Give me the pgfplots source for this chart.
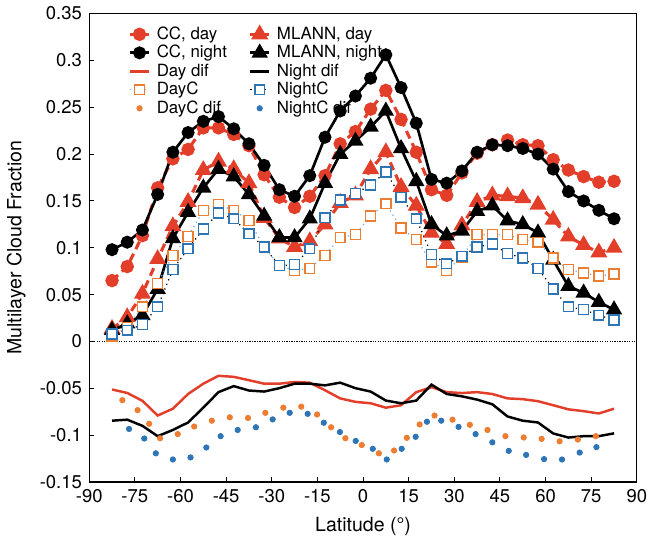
\documentclass[border=0pt]{standalone}
\usepackage{fontspec}
\setmainfont{TeX Gyre Heros}
\usepackage{pgfplots}
\pgfplotsset{compat=1.18}

\definecolor{cred}{RGB}{226,62,42}
\definecolor{corange}{RGB}{237,125,49}
\definecolor{cblue}{RGB}{46,117,182}
\definecolor{clblue}{RGB}{120,170,215}

\begin{document}
\begin{tikzpicture}
\begin{axis}[
    scale only axis,
    width=266.5pt,
    height=228pt,
    xmin=-90, xmax=90,
    ymin=-0.15, ymax=0.35,
    xtick={-90,-75,-60,-45,-30,-15,0,15,30,45,60,75,90},
    ytick={-0.15,-0.1,-0.05,0,0.05,0.1,0.15,0.2,0.25,0.3,0.35},
    tick align=inside,
    tick pos=left,
    major tick length=2.5pt,
    axis line style={line width=0.6pt},
    every tick/.style={black, line width=0.5pt},
    tick label style={font=\fontsize{9}{10}\selectfont},
    /pgf/number format/assume math mode=true,
    y tick label style={/pgf/number format/fixed, /pgf/number format/precision=2},
    xlabel={Latitude (°)},
    ylabel={Multilayer Cloud Fraction},
    label style={font=\fontsize{9.5}{11}\selectfont},
    legend columns=2,
    legend cell align=left,
    legend style={at={(0.06,0.985)}, anchor=north west, draw=none, fill=none,
        font=\fontsize{8.2}{8.6}\selectfont, row sep=0pt,
        nodes={inner sep=0.6pt, text height=6.2pt, text depth=1.6pt},
        /tikz/every odd column/.append style={column sep=2.5pt},
        /tikz/every even column/.append style={column sep=10pt}},
    legend image code/.code={\draw[mark repeat=2,mark phase=2]
        plot coordinates {(0cm,0cm) (0.16cm,0cm) (0.32cm,0cm)};},
]
% zero line
\addplot[black, line width=0.7pt, dash pattern=on 0.6pt off 0.6pt, forget plot]
    coordinates {(-90,0) (90,0)};

% CC, day
\addplot[cred, line width=1.5pt, dash pattern=on 4pt off 2.5pt,
    mark=*, mark size=2.5pt, mark options={solid, fill=cred, draw=cred}] coordinates {
(-82.5,0.065) (-77.5,0.080) (-72.5,0.113) (-67.5,0.164) (-62.5,0.195) (-57.5,0.205)
(-52.5,0.228) (-47.5,0.228) (-42.5,0.221) (-37.5,0.209) (-32.5,0.178) (-27.5,0.154)
(-22.5,0.143) (-17.5,0.155) (-12.5,0.177) (-7.5,0.211) (-2.5,0.224) (2.5,0.248)
(7.5,0.268) (12.5,0.237) (17.5,0.202) (22.5,0.162) (27.5,0.156) (32.5,0.180)
(37.5,0.201) (42.5,0.210) (47.5,0.215) (52.5,0.210) (57.5,0.209) (62.5,0.194)
(67.5,0.183) (72.5,0.176) (77.5,0.170) (82.5,0.171)
};
\addlegendentry{CC, day}

% MLANN, day
\addplot[cred, line width=1.5pt, dash pattern=on 4pt off 2.5pt,
    mark=triangle*, mark size=3.3pt, mark options={solid, fill=cred, draw=cred}] coordinates {
(-82.5,0.0135) (-77.5,0.026) (-72.5,0.051) (-67.5,0.088) (-62.5,0.123) (-57.5,0.149)
(-52.5,0.183) (-47.5,0.192) (-42.5,0.184) (-37.5,0.169) (-32.5,0.132) (-27.5,0.110)
(-22.5,0.101) (-17.5,0.107) (-12.5,0.125) (-7.5,0.148) (-2.5,0.156) (2.5,0.184)
(7.5,0.202) (12.5,0.165) (17.5,0.145) (22.5,0.116) (27.5,0.104) (32.5,0.124)
(37.5,0.149) (42.5,0.156) (47.5,0.155) (52.5,0.153) (57.5,0.146) (62.5,0.130)
(67.5,0.112) (72.5,0.103) (77.5,0.095) (82.5,0.100)
};
\addlegendentry{MLANN, day}

% CC, night
\addplot[black, line width=1.3pt, mark=*, mark size=2.5pt,
    mark options={solid, fill=black}] coordinates {
(-82.5,0.098) (-77.5,0.106) (-72.5,0.119) (-67.5,0.157) (-62.5,0.202) (-57.5,0.223)
(-52.5,0.235) (-47.5,0.240) (-42.5,0.227) (-37.5,0.211) (-32.5,0.188) (-27.5,0.162)
(-22.5,0.155) (-17.5,0.177) (-12.5,0.218) (-7.5,0.246) (-2.5,0.262) (2.5,0.281)
(7.5,0.306) (12.5,0.271) (17.5,0.233) (22.5,0.173) (27.5,0.169) (32.5,0.182)
(37.5,0.202) (42.5,0.210) (47.5,0.209) (52.5,0.206) (57.5,0.200) (62.5,0.184)
(67.5,0.160) (72.5,0.150) (77.5,0.140) (82.5,0.131)
};
\addlegendentry{CC, night}

% MLANN, night
\addplot[black, line width=1.3pt, mark=triangle*, mark size=3.3pt,
    mark options={solid, fill=black}] coordinates {
(-82.5,0.012) (-77.5,0.019) (-72.5,0.028) (-67.5,0.056) (-62.5,0.110) (-57.5,0.138)
(-52.5,0.164) (-47.5,0.184) (-42.5,0.176) (-37.5,0.157) (-32.5,0.134) (-27.5,0.111)
(-22.5,0.111) (-17.5,0.131) (-12.5,0.169) (-7.5,0.200) (-2.5,0.214) (2.5,0.229)
(7.5,0.246) (12.5,0.206) (17.5,0.171) (22.5,0.125) (27.5,0.113) (32.5,0.118)
(37.5,0.139) (42.5,0.145) (47.5,0.129) (52.5,0.125) (57.5,0.116) (62.5,0.087)
(67.5,0.059) (72.5,0.052) (77.5,0.042) (82.5,0.034)
};
\addlegendentry{MLANN, night}

% Day dif
\addplot[cred, line width=1.2pt, no marks] coordinates {
(-82.5,-0.0512) (-77.5,-0.0549) (-72.5,-0.0633) (-67.5,-0.0790) (-62.5,-0.0717) (-57.5,-0.0560)
(-52.5,-0.0450) (-47.5,-0.0366) (-42.5,-0.0377) (-37.5,-0.0413) (-32.5,-0.0450) (-27.5,-0.0450)
(-22.5,-0.0432) (-17.5,-0.0439) (-12.5,-0.0520) (-7.5,-0.0607) (-2.5,-0.0644) (2.5,-0.0659)
(7.5,-0.0706) (12.5,-0.0680) (17.5,-0.0540) (22.5,-0.0487) (27.5,-0.0540) (32.5,-0.0550)
(37.5,-0.0540) (42.5,-0.0560) (47.5,-0.0607) (52.5,-0.0615) (57.5,-0.0637) (62.5,-0.0680)
(67.5,-0.0724) (72.5,-0.0743) (77.5,-0.0768) (82.5,-0.0717)
};
\addlegendentry{Day dif}

% Night dif
\addplot[black, line width=1.2pt, no marks] coordinates {
(-82.5,-0.0845) (-77.5,-0.0834) (-72.5,-0.0900) (-67.5,-0.1010) (-62.5,-0.0944) (-57.5,-0.0864)
(-52.5,-0.0706) (-47.5,-0.0540) (-42.5,-0.0476) (-37.5,-0.0523) (-32.5,-0.0534) (-27.5,-0.0498)
(-22.5,-0.0450) (-17.5,-0.0450) (-12.5,-0.0468) (-7.5,-0.0439) (-2.5,-0.0498) (2.5,-0.0534)
(7.5,-0.0630) (12.5,-0.0659) (17.5,-0.0630) (22.5,-0.0460) (27.5,-0.0560) (32.5,-0.0585)
(37.5,-0.0620) (42.5,-0.0670) (47.5,-0.0800) (52.5,-0.0845) (57.5,-0.0864) (62.5,-0.0981)
(67.5,-0.1025) (72.5,-0.1010) (77.5,-0.1010) (82.5,-0.0980)
};
\addlegendentry{Night dif}

% DayC
\addplot[clblue, line width=0.6pt, dash pattern=on 0.6pt off 1.8pt, mark=square*, mark size=2.4pt,
    mark options={solid, draw=corange, line width=0.7pt, fill=white}] coordinates {
(-82.5,0.006) (-77.5,0.015) (-72.5,0.037) (-67.5,0.062) (-62.5,0.092) (-57.5,0.112)
(-52.5,0.140) (-47.5,0.146) (-42.5,0.140) (-37.5,0.129) (-32.5,0.101) (-27.5,0.081)
(-22.5,0.076) (-17.5,0.078) (-12.5,0.092) (-7.5,0.111) (-2.5,0.114) (2.5,0.134)
(7.5,0.147) (12.5,0.121) (17.5,0.109) (22.5,0.085) (27.5,0.076) (32.5,0.090)
(37.5,0.114) (42.5,0.114) (47.5,0.114) (52.5,0.109) (57.5,0.106) (62.5,0.089)
(67.5,0.077) (72.5,0.073) (77.5,0.070) (82.5,0.072)
};
\addlegendentry{DayC}

% NightC
\addplot[black, line width=0.6pt, dash pattern=on 0.6pt off 1.8pt, mark=square*, mark size=2.4pt,
    mark options={solid, draw=cblue, line width=0.7pt, fill=white}] coordinates {
(-82.5,0.008) (-77.5,0.012) (-72.5,0.018) (-67.5,0.037) (-62.5,0.077) (-57.5,0.099)
(-52.5,0.120) (-47.5,0.137) (-42.5,0.131) (-37.5,0.115) (-32.5,0.101) (-27.5,0.081)
(-22.5,0.082) (-17.5,0.099) (-12.5,0.132) (-7.5,0.151) (-2.5,0.158) (2.5,0.167)
(7.5,0.181) (12.5,0.154) (17.5,0.131) (22.5,0.093) (27.5,0.083) (32.5,0.091)
(37.5,0.101) (42.5,0.104) (47.5,0.094) (52.5,0.089) (57.5,0.078) (62.5,0.056)
(67.5,0.037) (72.5,0.034) (77.5,0.028) (82.5,0.023)
};
\addlegendentry{NightC}

% DayC dif
\addplot[only marks, mark=*, mark size=1.3pt, corange, mark options={draw=corange, fill=corange}] coordinates {
(-79.1,-0.0626) (-74.1,-0.0732) (-70.3,-0.0878) (-66.7,-0.1032) (-60.9,-0.0988) (-55.5,-0.0907)
(-49.7,-0.0845) (-43.8,-0.0809) (-37.8,-0.0816) (-32.1,-0.0761) (-26.2,-0.0706) (-20.3,-0.0695)
(-15.1,-0.0779) (-10.5,-0.0915) (-5.8,-0.1032) (-0.4,-0.1105) (5.2,-0.1193) (10.2,-0.1163)
(14.4,-0.1028) (18.6,-0.0885) (23.5,-0.0790) (29.4,-0.0834) (35.1,-0.0889) (40.9,-0.0944)
(46.8,-0.1010) (52.8,-0.1024) (58.7,-0.1039) (64.6,-0.1065) (70.6,-0.1046) (76.5,-0.1010)
};
\addlegendentry{DayC dif}

% NightC dif
\addplot[only marks, mark=*, mark size=1.3pt, cblue, mark options={draw=cblue, fill=cblue}] coordinates {
(-76.9,-0.0933) (-71.9,-0.1035) (-68.1,-0.1193) (-62.5,-0.1259) (-56.7,-0.1237) (-51.5,-0.1131)
(-46.8,-0.1010) (-41.2,-0.0944) (-35.2,-0.0915) (-29.7,-0.0831) (-24.1,-0.0761) (-18.2,-0.0772)
(-12.9,-0.0867) (-7.6,-0.0966) (-2.4,-0.1061) (3.2,-0.1145) (7.8,-0.1259) (12.7,-0.1145)
(17.3,-0.1017) (21.0,-0.0856) (25.7,-0.0845) (31.4,-0.0911) (37.0,-0.0988) (42.5,-0.1076)
(47.9,-0.1167) (53.6,-0.1210) (59.5,-0.1255) (65.4,-0.1259) (71.2,-0.1185) (76.7,-0.1127)
};
\addlegendentry{NightC dif}
\end{axis}
\end{tikzpicture}
\end{document}
